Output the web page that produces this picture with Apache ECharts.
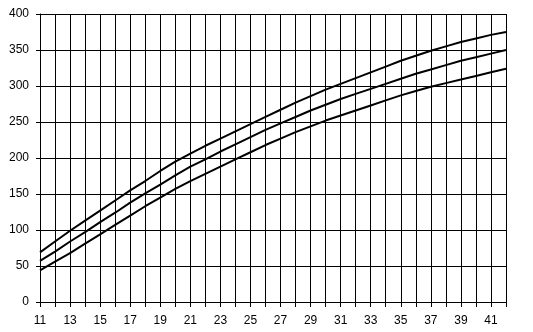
<!DOCTYPE html>
<html>
<head>
<meta charset="utf-8">
<script src="https://cdn.jsdelivr.net/npm/echarts@6/dist/echarts.min.js"></script>
<style>
html,body{margin:0;padding:0;background:#fff;}
#c{width:533px;height:332px;}
</style>
</head>
<body>
<div id="c"></div>
<script>
const weeks = [11,12,13,14,15,16,17,18,19,20,21,22,23,24,25,26,27,28,29,30,31,32,33,34,35,36,37,38,39,40,41,42];
const upper = [69,84,99,113,127,141,155,168,182,195,206,217,227,237,247,257,267,277,286,295,303,311,319,327,335,342,349,355,361,366,371,375];
const middle = [57,70,84,97,111,124,138,151,163,176,188,198,209,219,229,239,248,257,266,274,282,289,296,303,310,317,323,329,335,340,345,350];
const lower = [44,56,68,81,94,107,120,133,145,157,168,178,188,198,208,218,227,236,244,252,259,266,273,280,287,293,299,304,309,314,319,324];
const yTicks = [0,50,100,150,200,250,300,350,400];

const pairs = arr => weeks.map((w,i)=>[w,arr[i]]);
const lineStyle = {color:'#000', width:2};
const mk = (name, arr) => ({name, type:'line', data:pairs(arr), symbol:'none', lineStyle, itemStyle:{color:'#000'}, animation:false});

const chart = echarts.init(document.getElementById('c'), null, {renderer:'canvas'});
chart.setOption({
  backgroundColor:'#fff',
  animation:false,
  grid:{left:40, top:14, width:466, height:288, containLabel:false},
  xAxis:{
    type:'value', min:11, max:42, interval:1,
    axisLine:{show:true, lineStyle:{color:'#000', width:1}},
    axisTick:{show:true, length:5, lineStyle:{color:'#000'}},
    axisLabel:{color:'#000', fontFamily:'Liberation Sans', fontSize:12, margin:13,
      formatter: v => (v % 2 === 1 && v < 42) ? String(v) : ''},
    splitLine:{show:true, lineStyle:{color:'#000', width:1}}
  },
  yAxis:{
    type:'value', min:yTicks[0], max:yTicks[yTicks.length-1], interval:50,
    axisLine:{show:true, lineStyle:{color:'#000', width:1}},
    axisTick:{show:true, length:4, lineStyle:{color:'#000'}},
    axisLabel:{color:'#000', fontFamily:'Liberation Sans', fontSize:12, margin:11},
    splitLine:{show:true, lineStyle:{color:'#000', width:1}}
  },
  series:[mk('upper',upper), mk('middle',middle), mk('lower',lower)]
});
</script>
</body>
</html>
